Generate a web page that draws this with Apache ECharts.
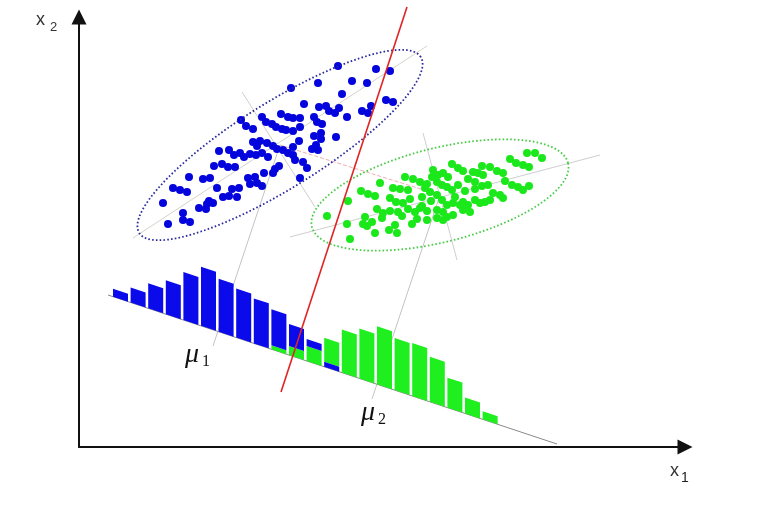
<!DOCTYPE html>
<html>
<head>
<meta charset="utf-8">
<title>Fisher LDA projection</title>
<script src="https://cdn.jsdelivr.net/npm/echarts@6/dist/echarts.min.js"></script>
<style>
  html, body { margin: 0; padding: 0; background: #fff; }
  #chart { width: 775px; height: 513px; }
</style>
</head>
<body>
<div id="chart"></div>
<script>
// class 1 samples [x1, x2]
const bluePoints = [
  [259,381],[297,378],[311,376],[239,364],[273,366],[288,364],[212,359],[263,353],[307,347],[314,345],
  [225,343],[240,340],[247,341],[250,336],[260,339],[256,334],[283,336],[289,334],[292,341],[268,330],
  [202,333],[209,330],[214,329],[221,329],[183,330],[187,325],[193,323],[235,330],[238,325],[243,323],
  [162,327],[167,321],[174,318],[197,320],[203,318],[207,317],[214,316],[221,320],[242,314],[235,311],
  [242,308],[257,310],[220,306],[174,305],[181,306],[178,301],[188,304],[194,301],[198,298],[214,300],
  [233,298],[239,297],[237,302],[140,296],[150,297],[155,292],[161,294],[165,290],[171,293],[177,292],
  [183,294],[189,290],[204,297],[209,294],[214,292],[216,287],[224,285],[228,279],[200,281],[135,281],
  [143,283],[149,280],[156,280],[185,274],[194,274],[196,278],[110,270],[124,268],[131,269],[169,269],
  [176,270],[178,264],[171,263],[183,261],[221,269],[94,259],[101,257],[108,255],[138,259],[153,258],
  [160,259],[144,250],[150,251],[158,250],[84,244],[130,246],[134,244],[128,243],[120,239],[127,238],
  [104,234],[104,227],[111,225],[89,223]
];
// class 2 samples [x1, x2]
const greenPoints = [
  [448,294],[456,294],[463,289],[431,288],[437,284],[444,282],[450,280],[373,283],[379,279],[384,276],
  [403,281],[411,280],[418,276],[424,274],[394,275],[399,274],[404,272],[354,277],[359,272],[364,274],
  [369,270],[389,268],[396,265],[403,261],[326,270],[334,268],[341,265],[348,263],[358,265],[363,262],
  [368,260],[373,257],[301,264],[433,262],[439,260],[444,257],[450,261],[314,259],[321,258],[329,257],
  [346,259],[351,255],[343,250],[282,256],[289,253],[296,251],[414,254],[421,252],[424,249],[411,247],
  [358,252],[363,247],[368,242],[374,244],[384,245],[389,242],[396,247],[401,244],[406,245],[311,249],
  [317,245],[324,244],[269,246],[298,238],[304,234],[311,236],[319,235],[329,238],[336,235],[341,239],
  [348,236],[358,237],[364,235],[368,230],[374,232],[384,237],[391,235],[381,242],[248,231],[286,230],
  [293,225],[303,229],[338,228],[348,227],[358,229],[364,227],[268,223],[284,223],[288,221],[310,217],
  [318,214],[316,222],[296,214],[271,208],[333,223],[353,270],[379,262],[386,256],[396,258],[352,246],
  [331,248],[376,250],[409,262],[426,266],[343,241],[323,231]
];

// covariance ellipses: [centre x1, centre x2, semi-major, semi-minor, angle deg]
const blueEllipse = [201, 302, 166, 43, 32];
const greenEllipse = [361, 252, 132, 47, 14];

// projected histograms, one count per bin along the projection line
const blueHist  = [8, 15, 25, 34, 48, 59, 53, 49, 45, 36, 22, 7, 5, 0, 0, 0, 0, 0, 0, 0, 0, 0];
const greenHist = [0, 0, 0, 0, 0, 0, 0, 0, 0, 4, 9, 15, 24, 43, 50, 58, 52, 53, 45, 30, 16, 8];
const splitBin = 12; // from this bin on, class 2 owns the bin

// guide lines
const projLine = [[29, 152], [478, 3]];
const boundary = [[202, 55], [328, 440]];
const blueMajor = [[54, 209], [348, 401]];
const blueMinor = [[163, 355], [236, 240]];
const blueProj = [[201, 302], [134, 101]];
const greenMajor = [[211, 210], [521, 292]];
const greenMinor = [[344, 314], [378, 187]];
const greenProj = [[361, 252], [293, 48]];
const meanLink = [[201, 302], [361, 252]];

const HIST_X0 = 34, HIST_PITCH = 17.6, HIST_BAR = 15;
const slope = (projLine[1][1] - projLine[0][1]) / (projLine[1][0] - projLine[0][0]);
function baseAt(x) {
  return projLine[0][1] + slope * (x - projLine[0][0]);
}

let blueBars = [], greenBars = [];
blueHist.forEach((v, k) => {
  const g = greenHist[k];
  if (k < splitBin) {
    if (v) blueBars.push([k, g, v]);
    if (g) greenBars.push([k, 0, g]);
  } else {
    if (v) blueBars.push([k, 0, v]);
    if (g) greenBars.push([k, v, g]);
  }
});

function renderBar(params, api) {
  const k = api.value(0), b = api.value(1), h = api.value(2);
  const xl = HIST_X0 + k * HIST_PITCH, xr = xl + HIST_BAR;
  const pts = [
    [xl, baseAt(xl) + b], [xr, baseAt(xr) + b],
    [xr, baseAt(xr) + b + h], [xl, baseAt(xl) + b + h]
  ].map(p => api.coord(p));
  return { type: 'polygon', shape: { points: pts }, style: { fill: api.visual('color') } };
}

function renderEllipse(params, api) {
  const cx = api.value(0), cy = api.value(1), a = api.value(2), b = api.value(3);
  const ang = api.value(4) * Math.PI / 180;
  const pts = [];
  for (let i = 0; i <= 160; i++) {
    const t = i / 160 * Math.PI * 2;
    const ex = a * Math.cos(t), ey = b * Math.sin(t);
    pts.push(api.coord([cx + ex * Math.cos(ang) - ey * Math.sin(ang),
                        cy + ex * Math.sin(ang) + ey * Math.cos(ang)]));
  }
  return {
    type: 'polygon', shape: { points: pts },
    style: { fill: 'none', stroke: api.visual('color'), lineWidth: 1.8, lineDash: [1.6, 2.2] }
  };
}

function guide(data, color, width, type) {
  return {
    type: 'line', data: data, showSymbol: false, clip: false, silent: true, z: 1,
    lineStyle: { color: color, width: width, type: type || 'solid' }
  };
}

const axisBase = {
  type: 'value', min: 0,
  axisLine: { show: true, symbol: ['none', 'triangle'], symbolSize: [15, 15],
    lineStyle: { color: '#111', width: 2 } },
  axisTick: { show: false }, axisLabel: { show: false }, splitLine: { show: false }
};

const chart = echarts.init(document.getElementById('chart'));
chart.setOption({
  backgroundColor: '#fff',
  animation: false,
  grid: { left: 79, right: 90, top: 17, bottom: 66 },
  xAxis: Object.assign({}, axisBase, { max: 606 }),
  yAxis: Object.assign({}, axisBase, { max: 430 }),
  graphic: [
    { type: 'text', x: 36, y: 11, style: { text: 'x', font: '18px "Liberation Sans"', fill: '#333' } },
    { type: 'text', x: 50, y: 21, style: { text: '2', font: '13px "Liberation Sans"', fill: '#333' } },
    { type: 'text', x: 670, y: 462, style: { text: 'x', font: '18px "Liberation Sans"', fill: '#333' } },
    { type: 'text', x: 681, y: 471, style: { text: '1', font: '14px "Liberation Sans"', fill: '#222' } },
    { type: 'text', x: 185, y: 341, style: { text: 'μ', font: 'italic 28px "Liberation Serif"', fill: '#111' } },
    { type: 'text', x: 202, y: 354, style: { text: '1', font: '16px "Liberation Serif"', fill: '#111' } },
    { type: 'text', x: 361, y: 399, style: { text: 'μ', font: 'italic 28px "Liberation Serif"', fill: '#111' } },
    { type: 'text', x: 378, y: 412, style: { text: '2', font: '16px "Liberation Serif"', fill: '#111' } }
  ],
  series: [
    guide(blueMajor, '#d4d4c8', 1),
    guide(blueMinor, '#cfcfcf', 1),
    guide(blueProj, '#c4c4c4', 1),
    guide(greenMajor, '#cfcfcf', 1),
    guide(greenMinor, '#cfcfcf', 1),
    guide(greenProj, '#c4c4c4', 1),
    guide(meanLink, '#eeb0b0', 1, 'dashed'),
    guide(projLine, '#8a8a8a', 1),
    { type: 'custom', renderItem: renderBar, data: greenBars, itemStyle: { color: '#1fee1f' },
      encode: { x: 0, y: 1 }, z: 2 },
    { type: 'custom', renderItem: renderBar, data: blueBars, itemStyle: { color: '#0a0aea' },
      encode: { x: 0, y: 1 }, z: 2 },
    { type: 'scatter', data: bluePoints, symbolSize: 8, itemStyle: { color: '#0404dc', opacity: 1 }, z: 3 },
    { type: 'scatter', data: greenPoints, symbolSize: 8, itemStyle: { color: '#1ae81a', opacity: 1 }, z: 3 },
    { type: 'custom', renderItem: renderEllipse, data: [blueEllipse], itemStyle: { color: '#2a2aa0' },
      encode: { x: 0, y: 1 }, z: 4 },
    { type: 'custom', renderItem: renderEllipse, data: [greenEllipse], itemStyle: { color: '#44cc44' },
      encode: { x: 0, y: 1 }, z: 4 },
    Object.assign(guide(boundary, '#e02424', 1.6), { z: 5 })
  ]
});
</script>
</body>
</html>
